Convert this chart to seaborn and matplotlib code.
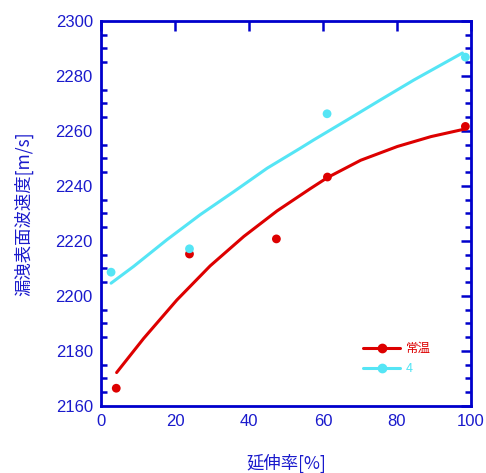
import matplotlib
matplotlib.use("Agg")
import matplotlib.pyplot as plt
from matplotlib.lines import Line2D
from matplotlib.ticker import MultipleLocator
import seaborn as sns

# measured points
red_x = [4.1, 23.9, 47.4, 61.2, 98.5]
red_y = [2166.4, 2215.2, 2220.7, 2243.2, 2261.6]
cyan_x = [2.7, 23.9, 61.1, 98.5]
cyan_y = [2208.6, 2217.1, 2266.2, 2286.8]

# fitted curves
red_fit_x = [4.2, 11.5, 20.5, 29.5, 38.6, 47.6, 56.6, 61.2, 70.2, 80.1, 89.2, 98.2]
red_fit_y = [2172.1, 2184.5, 2198.5, 2210.9, 2221.6, 2230.9, 2239.0, 2243.0, 2249.3, 2254.3, 2257.9, 2260.6]
cyan_fit_x = [2.7, 8.8, 17.8, 26.8, 35.9, 44.9, 53.9, 57.5, 66.6, 75.6, 84.6, 97.7]
cyan_fit_y = [2204.6, 2210.7, 2220.4, 2229.5, 2237.9, 2246.4, 2253.7, 2256.7, 2264.0, 2271.3, 2278.5, 2288.3]

labels = ["常温", "4"]

BLUE = "#0000CC"
TEXT = "#1a1acc"
RED = "#DD0000"
CYAN = "#55E5F5"
CJK = ["Noto Sans CJK JP", "DejaVu Sans"]

sns.set_theme(style="white")
plt.rcParams["font.family"] = ["Liberation Sans", "Noto Sans CJK JP", "DejaVu Sans"]

fig, ax = plt.subplots(figsize=(4.86, 4.73), dpi=100)
fig.subplots_adjust(left=0.208, right=0.969, top=0.956, bottom=0.142)

sns.lineplot(x=red_fit_x, y=red_fit_y, color=RED, linewidth=2.2, ax=ax)
sns.lineplot(x=cyan_fit_x, y=cyan_fit_y, color=CYAN, linewidth=2.2, ax=ax)
sns.scatterplot(x=red_x, y=red_y, color=RED, s=40, edgecolor="none", ax=ax, zorder=3)
sns.scatterplot(x=cyan_x, y=cyan_y, color=CYAN, s=40, edgecolor="none", ax=ax, zorder=3)

ax.set_xlim(0, 100)
ax.set_ylim(2160, 2300)
ax.xaxis.set_major_locator(MultipleLocator(20))
ax.yaxis.set_major_locator(MultipleLocator(20))
ax.yaxis.set_minor_locator(MultipleLocator(5))

for side in ax.spines.values():
    side.set_color(BLUE)
    side.set_linewidth(2)
ax.tick_params(which="both", direction="in", top=True, right=True, colors=BLUE,
               labelcolor=TEXT, labelsize=12, width=1.8)
ax.tick_params(which="major", length=7, pad=6)
ax.tick_params(which="minor", length=4, left=True, right=True)

ax.set_xlabel("延伸率[%]", color=TEXT, fontsize=12.5, labelpad=18, family=CJK)
ax.set_ylabel("漏洩表面波速度[m/s]", color=TEXT, fontsize=12.5, labelpad=16, family=CJK)

handles = [
    Line2D([], [], color=RED, lw=2.2, marker="o", markersize=6),
    Line2D([], [], color=CYAN, lw=2.2, marker="o", markersize=6),
]
leg = ax.legend(handles, labels, loc="upper left", bbox_to_anchor=(0.708, 0.166),
                frameon=False, borderpad=0, borderaxespad=0, handlelength=3.0,
                handletextpad=0.4, labelspacing=0.6,
                prop={"family": CJK, "size": 9})
for txt, c in zip(leg.get_texts(), [RED, CYAN]):
    txt.set_color(c)

fig.savefig("out.png", dpi=100)
